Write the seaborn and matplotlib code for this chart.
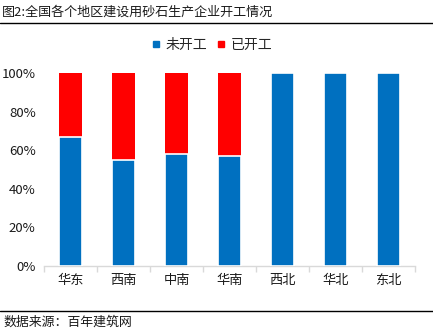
import matplotlib
matplotlib.use("Agg")
import matplotlib.pyplot as plt
from matplotlib.lines import Line2D
import seaborn as sns
import pandas as pd

regions = ["华东", "西南", "中南", "华南", "西北", "华北", "东北"]
not_started = [67, 55, 58, 57, 100, 100, 100]
started = [33, 45, 42, 43, 0, 0, 0]
y_ticks = [0, 20, 40, 60, 80, 100]
title = "图2:全国各个地区建设用砂石生产企业开工情况"
source = "数据来源：百年建筑网"
series_names = ["未开工", "已开工"]
colors = ["#0070C0", "#FF0000"]

sns.set_theme(style="white")
plt.rcParams['font.family'] = ['Noto Sans CJK SC', 'DejaVu Sans']

df = pd.DataFrame({
    "region": regions,
    "not_started": [v / 100 for v in not_started],
    "total": [(a + b) / 100 for a, b in zip(not_started, started)],
})

fig = plt.figure(figsize=(4.33, 3.33), dpi=100)
ax = fig.add_axes([44 / 433, (333 - 266) / 333, (415 - 44) / 433, (266 - 73) / 333])

sns.barplot(data=df, x="region", y="total", color=colors[1], saturation=1,
            width=0.45, ax=ax, zorder=2, linewidth=0)
sns.barplot(data=df, x="region", y="not_started", color=colors[0], saturation=1,
            width=0.45, ax=ax, zorder=3, edgecolor="white", linewidth=1.2)

ax.set_xlim(-0.5, len(regions) - 0.5)
ax.set_ylim(0, 1)
ax.set_yticks([t / 100 for t in y_ticks])
ax.set_yticklabels([f"{t}%" for t in y_ticks])
ax.set_xlabel("")
ax.set_ylabel("")
for s in ["top", "right", "left"]:
    ax.spines[s].set_visible(False)
ax.spines["bottom"].set_color("#D9D9D9")
ax.spines["bottom"].set_linewidth(1)
ax.tick_params(axis="x", which="major", length=0, pad=6, labelsize=9.5, labelcolor="#1a1a1a")
ax.set_xticks([i - 0.5 for i in range(len(regions) + 1)], minor=True)
ax.tick_params(axis="x", which="minor", length=4, color="#D9D9D9", width=1, direction="out", bottom=True)
ax.tick_params(axis="y", length=0, pad=6, labelsize=9.5, labelcolor="#1a1a1a")

handles = [Line2D([0], [0], marker="s", linestyle="", markersize=4.5,
                  markerfacecolor=c, markeredgecolor=c) for c in colors]
fig.legend(handles, series_names, loc="center", bbox_to_anchor=(0.488, 1 - 45 / 333),
           ncol=2, frameon=False, fontsize=10, handlelength=0.8, handletextpad=0.3,
           columnspacing=0.6)

fig.text(2 / 433, 1 - 12 / 333, title, ha="left", va="center", fontsize=9.4, color="#1a1a1a")
fig.text(3 / 433, 1 - 322 / 333, source, ha="left", va="center", fontsize=9.3, color="#1a1a1a")
fig.add_artist(Line2D([0, 1], [1 - 22.5 / 333] * 2, color="black", linewidth=1,
                      transform=fig.transFigure))
fig.add_artist(Line2D([0, 1], [1 - 310.5 / 333] * 2, color="black", linewidth=1,
                      transform=fig.transFigure))

fig.savefig("out.png", dpi=100)
